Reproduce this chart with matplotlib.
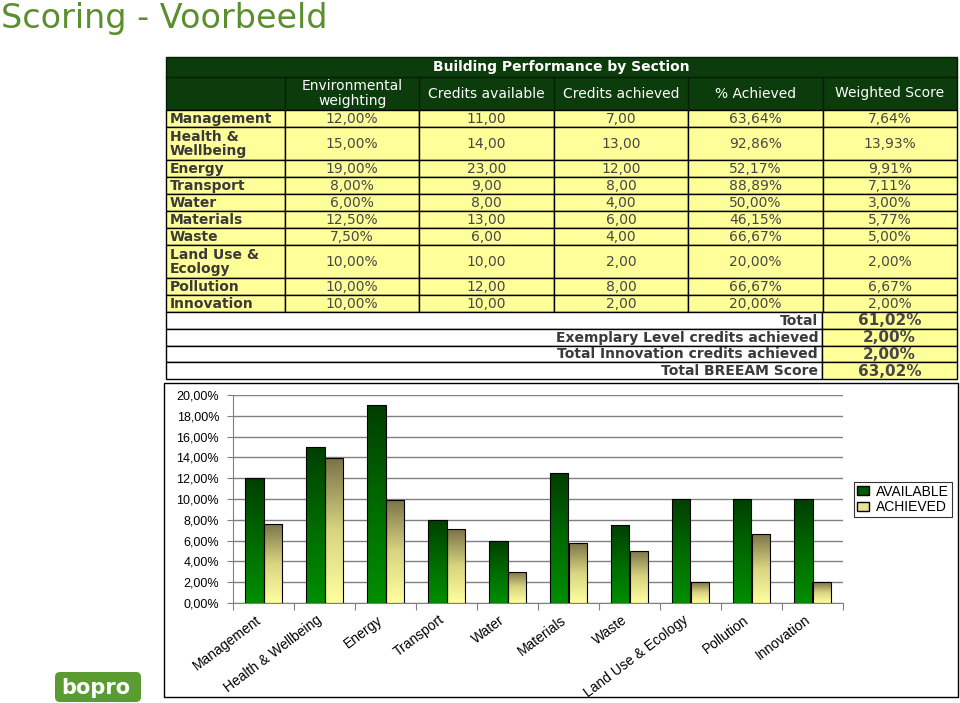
import numpy as np
import matplotlib
matplotlib.use("Agg")
import matplotlib.pyplot as plt
from matplotlib.patches import Rectangle, FancyBboxPatch, Patch
from matplotlib.colors import LinearSegmentedColormap

# table data
sections = ["Management", "Health &\nWellbeing", "Energy", "Transport", "Water",
            "Materials", "Waste", "Land Use &\nEcology", "Pollution", "Innovation"]
chart_labels = ["Management", "Health & Wellbeing", "Energy", "Transport", "Water",
                "Materials", "Waste", "Land Use & Ecology", "Pollution", "Innovation"]
col_headers = ["Environmental\nweighting", "Credits available", "Credits achieved",
               "% Achieved", "Weighted Score"]
env_weighting = [12.00, 15.00, 19.00, 8.00, 6.00, 12.50, 7.50, 10.00, 10.00, 10.00]
credits_available = [11, 14, 23, 9, 8, 13, 6, 10, 12, 10]
credits_achieved = [7, 13, 12, 8, 4, 6, 4, 2, 8, 2]
pct_achieved = [63.64, 92.86, 52.17, 88.89, 50.00, 46.15, 66.67, 20.00, 66.67, 20.00]
weighted_score = [7.64, 13.93, 9.91, 7.11, 3.00, 5.77, 5.00, 2.00, 6.67, 2.00]
summary_labels = ["Total", "Exemplary Level credits achieved",
                  "Total Innovation credits achieved", "Total BREEAM Score"]
summary_values = [61.02, 2.00, 2.00, 63.02]
y_ticks = [0, 2, 4, 6, 8, 10, 12, 14, 16, 18, 20]


def nl(v, pct=False):
    s = f"{v:.2f}".replace(".", ",")
    return s + "%" if pct else s


fig = plt.figure(figsize=(9.6, 7.03), dpi=100, facecolor="white")

# page axes in pixel coordinates
pg = fig.add_axes([0, 0, 1, 1])
pg.set_xlim(0, 960)
pg.set_ylim(703, 0)
pg.axis("off")

pg.text(1, 28, "Scoring - Voorbeeld", fontsize=24, color="#5b8f2e",
        family="DejaVu Sans", va="baseline", ha="left")

# ---- table ----
yellow = "#ffff99"
dark = "#0c3b0c"
txt_val = "#474747"
txt_lab = "#3a3a3a"
left, right = 166, 957
x_edges = [left, 285] + [285 + (right - 285) / 5 * (i + 1) for i in range(5)]

pg.add_patch(Rectangle((left, 57), right - left, 53, facecolor=dark,
                       edgecolor="#022002", lw=1))
pg.plot([left, right], [77, 77], color="#022002", lw=1)
pg.text((left + right) / 2, 67.5, "Building Performance by Section", color="white",
        fontsize=10, fontweight="bold", ha="center", va="center")
for i, h in enumerate(col_headers):
    x0, x1 = x_edges[i + 1], x_edges[i + 2]
    pg.plot([x0, x0], [77, 110], color="#022002", lw=1)
    pg.text((x0 + x1) / 2, 93.5, h, color="white", fontsize=10, ha="center",
            va="center", linespacing=1.0)

y = 110
cols = [env_weighting, credits_available, credits_achieved, pct_achieved, weighted_score]
pct_flags = [True, False, False, True, True]
for r, name in enumerate(sections):
    h = 33 if "\n" in name else 17
    for c in range(6):
        pg.add_patch(Rectangle((x_edges[c], y), x_edges[c + 1] - x_edges[c], h,
                               facecolor=yellow, edgecolor="black", lw=1))
    pg.text(170, y + h / 2 + 0.5, name, fontsize=10, fontweight="bold", color=txt_lab,
            ha="left", va="center", linespacing=0.95)
    for c in range(5):
        pg.text((x_edges[c + 1] + x_edges[c + 2]) / 2, y + h / 2 + 0.5,
                nl(cols[c][r], pct_flags[c]), fontsize=10, color=txt_val,
                ha="center", va="center")
    y += h

for lab, val in zip(summary_labels, summary_values):
    h = 16.75
    pg.add_patch(Rectangle((left, y), 822 - left, h, facecolor="white",
                           edgecolor="black", lw=1))
    pg.add_patch(Rectangle((822, y), right - 822, h, facecolor=yellow,
                           edgecolor="black", lw=1))
    pg.text(818, y + h / 2 + 0.5, lab, fontsize=10, fontweight="bold", color=txt_lab,
            ha="right", va="center")
    pg.text((822 + right) / 2, y + h / 2 + 0.5, nl(val, True), fontsize=11,
            fontweight="bold", color=txt_val, ha="center", va="center")
    y += h

# chart frame
pg.add_patch(Rectangle((164, 383), 794, 314, fill=False, edgecolor="black", lw=1))

# logo
pg.add_patch(FancyBboxPatch((55, 672), 86, 30,
                            boxstyle="round,pad=0,rounding_size=5",
                            facecolor="#5a9b32", edgecolor="none"))
pg.text(96, 688, "bopro", color="white", fontsize=15, fontweight="bold",
        ha="center", va="center", family="DejaVu Sans")

# ---- bar chart ----
ax = fig.add_axes([233 / 960, (703 - 603) / 703, 610 / 960, 208 / 703])
ax.set_facecolor("white")
x = np.arange(len(chart_labels))
w = 0.3

cmap_av = LinearSegmentedColormap.from_list("av", ["#008e00", "#006a00", "#003e00"])
cmap_ac = LinearSegmentedColormap.from_list("ac", ["#ffffa0", "#d8d480", "#7a7248"])
grad = np.linspace(0, 1, 256).reshape(-1, 1)

bars_av = ax.bar(x - w / 2, env_weighting, w, facecolor="none", edgecolor="black",
                 lw=0.8, zorder=3)
bars_ac = ax.bar(x + w / 2, weighted_score, w, facecolor="none", edgecolor="black",
                 lw=0.8, zorder=3)
for bars, cm in [(bars_av, cmap_av), (bars_ac, cmap_ac)]:
    for b in bars:
        im = ax.imshow(grad, cmap=cm, origin="lower", aspect="auto", zorder=2,
                       extent=[b.get_x(), b.get_x() + b.get_width(), 0, b.get_height()])
        im.set_clip_path(b)

ax.set_xlim(-0.5, len(x) - 0.5)
ax.set_ylim(0, 20)
ax.set_yticks(y_ticks)
ax.set_yticklabels([nl(v, True) for v in y_ticks], fontsize=9, family="Liberation Sans")
ax.yaxis.grid(True, color="#808080", lw=1, zorder=0)
ax.set_axisbelow(True)
ax.set_xticks(np.arange(-0.5, len(x), 1))
ax.set_xticklabels([])
ax.set_xticks(x, minor=True)
ax.set_xticklabels(chart_labels, minor=True, rotation=37, ha="right",
                   fontsize=10, family="Liberation Sans")
ax.tick_params(axis="x", which="major", length=5, color="#808080")
ax.tick_params(axis="x", which="minor", length=0, pad=7)
ax.tick_params(axis="y", length=4, color="#808080", pad=6)
for s in ["top", "right"]:
    ax.spines[s].set_visible(False)
for s in ["left", "bottom"]:
    ax.spines[s].set_color("#808080")

handles = [Patch(facecolor="#005a00", edgecolor="black", label="AVAILABLE"),
           Patch(facecolor="#e6e396", edgecolor="black", label="ACHIEVED")]
leg = ax.legend(handles=handles, loc="upper left", bbox_to_anchor=(854 / 960, 1 - 482 / 703),
                bbox_transform=fig.transFigure, borderaxespad=0, fancybox=False,
                frameon=True, prop={"family": "Liberation Sans", "size": 10},
                handlelength=0.9, handleheight=0.6, handletextpad=0.5,
                labelspacing=0.1, borderpad=0.2)
leg.get_frame().set_edgecolor("black")
leg.get_frame().set_linewidth(0.8)

fig.savefig("out.png", dpi=100, facecolor="white")
